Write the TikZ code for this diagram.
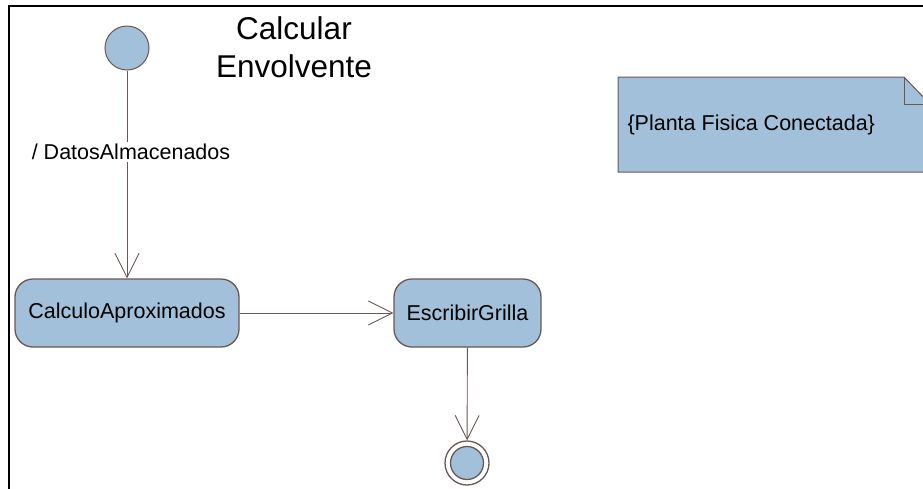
\documentclass[tikz,border=0pt]{standalone}
\usepackage{fontspec}
\setmainfont{Liberation Sans}
\usepackage{xcolor}
\usetikzlibrary{arrows.meta,positioning,calc}

\definecolor{statefill}{RGB}{162,192,217}
\definecolor{stateline}{RGB}{104,88,84}

\begin{document}
\begin{tikzpicture}[
    x=1pt, y=-1pt,
    state/.style={draw=stateline, fill=statefill, rounded corners=18pt,
      minimum height=68pt, line width=1.3pt, font=\fontsize{21.5}{25}\selectfont},
    flow/.style={draw=stateline, line width=0.9pt,
      -{Straight Barb[length=24pt,width=24pt,line width=0.9pt]}},
  ]
  \useasboundingbox (0,0) rectangle (923,488);
  \clip (0,0) rectangle (923,488);

  % frame of the activity
  \draw[line width=2pt] (9,490) -- (9,6) -- (925,6);

  \node[align=center, font=\fontsize{31.5}{38}\selectfont] (title) at (294,47) {Calcular\\Envolvente};

  % note with folded corner
  \draw[draw=stateline, fill=statefill, line width=1pt]
    (618,77) -- (904,77) -- (930,104) -- (930,172) -- (618,172) -- cycle;
  \draw[draw=stateline, line width=1pt] (904,77) -- (904,104) -- (930,104);
  \node[anchor=west, font=\fontsize{21.5}{25}\selectfont] (note) at (624,125) {\{Planta Fisica Conectada\}};

  % states
  \node[circle, draw=stateline, fill=statefill, line width=1pt, minimum size=44pt, inner sep=0pt] (start) at (127,48) {};
  \node[state, minimum width=224pt] (calc) at (127,313) {CalculoAproximados};
  \node[state, minimum width=147pt] (grilla) at (467.5,313) {EscribirGrilla};
  \node[circle, draw=stateline, line width=1.3pt, minimum size=44pt, inner sep=0pt] (stop) at (467,463) {};
  \node[circle, draw=stateline, fill=statefill, line width=1.3pt, minimum size=33pt, inner sep=0pt] (stopin) at (stop) {};

  % transitions
  \draw[flow] (start) -- (calc);
  \node[fill=white, inner sep=2pt, font=\fontsize{21.5}{25}\selectfont] (guard) at (131,152) {/ DatosAlmacenados};
  \draw[flow] (calc) -- (grilla);
  \draw[flow] (grilla) -- (stop);
\end{tikzpicture}
\end{document}
